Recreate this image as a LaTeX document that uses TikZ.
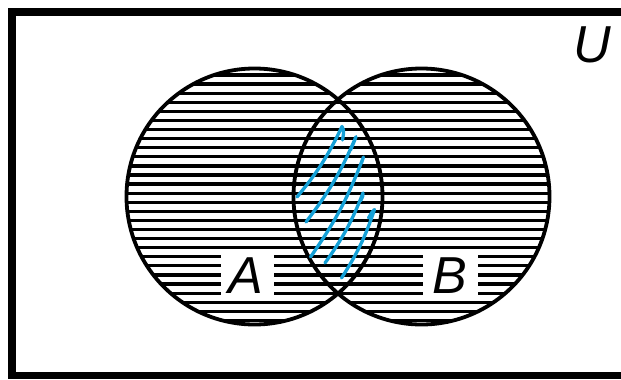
\documentclass[tikz,border=0pt]{standalone}
\usepackage{fontspec}
\setmainfont{Liberation Sans}
\definecolor{pen}{RGB}{20,160,215}
\begin{document}
\begin{tikzpicture}[x=1pt,y=-1pt,
  hatch/.style={line width=3.2pt},
  outline/.style={line width=3.8pt},
  frame/.style={line width=7.8pt},
  bluepen/.style={draw=pen, line width=3.3pt, line cap=round, line join=round},
  gapbox/.style={fill=white},
  lbl/.style={font=\fontsize{52}{52}\selectfont\itshape, inner sep=0pt, anchor=base}]
\clip (0,0) rectangle (621,380);
\fill[white] (0,0) rectangle (621,380);
\coordinate (ca) at (254.5,196.5);
\coordinate (cb) at (421.5,196.5);
% hatching
\begin{scope}
  \clip (ca) circle[radius=128];
  \foreach \k in {0,...,27} \draw[hatch] (100,75+9.09*\k) -- (400,75+9.09*\k);
\end{scope}
\begin{scope}
  \clip (cb) circle[radius=128];
  \foreach \k in {0,...,27} \draw[hatch] (280,75+9.09*\k) -- (580,75+9.09*\k);
\end{scope}
% label gaps
\fill[gapbox] (221,251) rectangle (274,297);
\fill[gapbox] (423,251) rectangle (478,297);
% outlines
\draw[outline] (ca) circle[radius=128];
\draw[outline] (cb) circle[radius=128];
% frame
\draw[frame] (12.3,11.8) rectangle (640,375.5);
% labels
\node[lbl] (la) at (246,293.3) {A};
\node[lbl] (lb) at (450,293.3) {B};
\node[lbl] (lu) at (592,62.5) {U};
% blue strokes
\draw[bluepen] (297,197) to[bend right=7] (342,126.5) .. controls (344,131) .. (342.5,140);
\draw[bluepen] (306,222) to[bend right=7] (356,136.7) .. controls (354,142) .. (350.5,150);
\draw[bluepen] (310.5,257) to[bend right=7] (363.5,157) .. controls (363,160) .. (361.5,163);
\draw[bluepen] (325,263) to[bend right=7] (363,193) .. controls (363,196) .. (360.5,201);
\draw[bluepen] (341.5,278) to[bend right=7] (374.5,209.5) .. controls (372,212) .. (368.5,218);
\end{tikzpicture}
\end{document}
